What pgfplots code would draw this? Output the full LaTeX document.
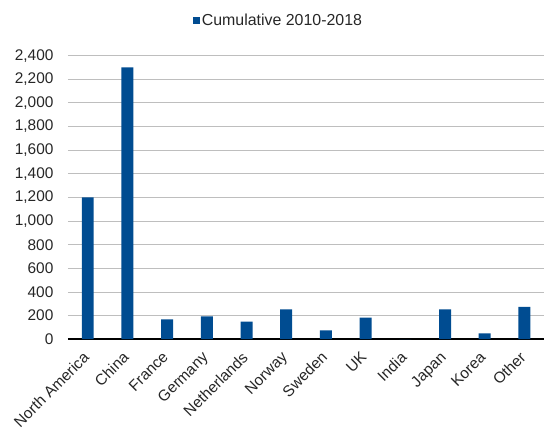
\documentclass[border=0pt]{standalone}
\usepackage{fontspec}
\setmainfont{Liberation Sans}
\usepackage{pgfplots}
\pgfplotsset{compat=1.18}
\definecolor{barblue}{RGB}{0,76,145}
\definecolor{gridgray}{RGB}{190,190,190}
\begin{document}
\begin{tikzpicture}
\begin{axis}[
    scale only axis,
    width=477bp, height=284bp,
    ybar, bar width=12bp,
    ymin=0, ymax=2400,
    ytick={0,200,...,2400},
    xmin=-0.5, xmax=11.5,
    xtick=data,
    xticklabels={North America,China,France,Germany,Netherlands,Norway,Sweden,UK,India,Japan,Korea,Other},
    x tick label style={rotate=45, anchor=north east, inner sep=1pt, yshift=-3bp, xshift=-11bp},
    tick label style={font=\fontsize{15.5}{17}\selectfont, text=black!85},
    /pgf/number format/assume math mode=true,
    /pgf/number format/1000 sep={,},
    scaled y ticks=false,
    ymajorgrids,
    grid style={gridgray, line width=0.8pt},
    axis lines*=left,
    y axis line style={draw=none},
    x axis line style={black, line width=1.5pt, -},
    major tick length=0pt,
    tick style={draw=none},
    y tick label style={xshift=-11bp},
    legend style={at={(0.442,1.0)}, anchor=center, yshift=35bp, draw=none, fill=none,
        font=\fontsize{16}{18}\selectfont, text=black!85},
    legend image code/.code={\fill[barblue] (0bp,-3.5bp) rectangle (7bp,3.5bp);},
    clip=false,
]
\addplot[fill=barblue, draw=none] coordinates {
    (0,1200) (1,2300) (2,168) (3,193) (4,148) (5,252)
    (6,75) (7,182) (8,0) (9,252) (10,50) (11,274)
};
\addlegendentry{Cumulative 2010-2018}
\end{axis}
\path ([xshift=-68bp,yshift=-93bp]current axis.south west) rectangle ([yshift=55.7bp]current axis.north east);
\end{tikzpicture}
\end{document}
